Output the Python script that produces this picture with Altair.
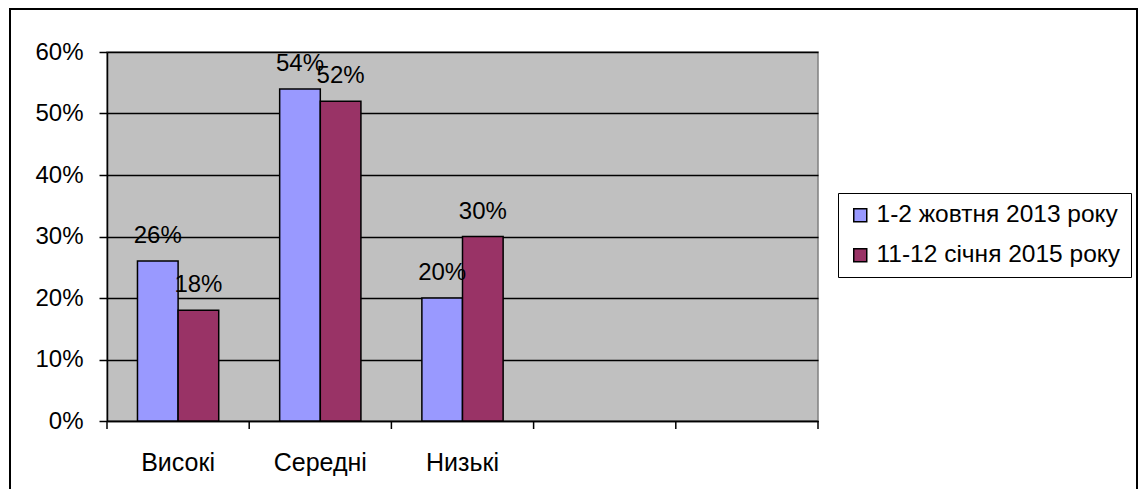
import altair as alt
import pandas as pd

categories = ["Високі", "Середні", "Низькі", " ", "  "]
series = ["1-2 жовтня 2013 року", "11-12 січня 2015 року"]
values_2013 = [0.26, 0.54, 0.20]
values_2015 = [0.18, 0.52, 0.30]
y_ticks = [0, 0.1, 0.2, 0.3, 0.4, 0.5, 0.6]
colors = ["#9999FF", "#993366"]

rows = []
for c, v in zip(categories, values_2013):
    rows.append({"cat": c, "series": series[0], "value": v})
for c, v in zip(categories, values_2015):
    rows.append({"cat": c, "series": series[1], "value": v})
df = pd.DataFrame(rows)
cats_df = pd.DataFrame({"cat": categories})

FONT = "Liberation Sans"
W, H = 711, 369

x_scale = alt.Scale(domain=categories, paddingInner=0, paddingOuter=0)
xo_scale = alt.Scale(domain=series, paddingInner=0, paddingOuter=0.75)
y_scale = alt.Scale(domain=[0, 0.6], nice=False)

x_enc = alt.X("cat:N", scale=x_scale, sort=categories,
              axis=alt.Axis(title=None, ticks=False, labelAngle=0, labelFontSize=25,
                            labelFont=FONT, labelColor="black", labelPadding=29,
                            domainColor="black", domainWidth=1.5))
y_enc = alt.Y("value:Q", scale=y_scale,
              axis=alt.Axis(title=None, values=y_ticks, format=".0%", grid=True,
                            gridColor="black", gridWidth=1.5, tickColor="black",
                            tickSize=8, tickWidth=1.5, domainColor="black", domainWidth=1.5,
                            labelFontSize=24, labelFont=FONT, labelColor="black",
                            labelPadding=16))

border = alt.Chart(cats_df).mark_rect(fill=None, stroke="black", strokeWidth=2).encode(
    x=alt.value(-97), x2=alt.value(1030), y=alt.value(-43), y2=alt.value(520)
)

bars = alt.Chart(df).mark_bar(stroke="black", strokeWidth=1.5).encode(
    x=x_enc,
    xOffset=alt.XOffset("series:N", scale=xo_scale, sort=series),
    y=y_enc,
    color=alt.Color("series:N", scale=alt.Scale(domain=series, range=colors),
                    legend=alt.Legend(title=None, orient="none", legendX=731, legendY=141,
                                      strokeColor="black", fillColor="white", padding=10,
                                      symbolType="square", symbolSize=169,
                                      symbolStrokeColor="black", symbolStrokeWidth=1.5,
                                      labelFontSize=24.5, labelFont=FONT, labelColor="black",
                                      labelLimit=0, rowPadding=15, labelOffset=4)),
)

labels = alt.Chart(df).mark_text(fontSize=24, font=FONT, color="black", baseline="alphabetic",
                                 align="center", dy=-18).encode(
    x=alt.X("cat:N", scale=x_scale, sort=categories),
    xOffset=alt.XOffset("series:N", scale=xo_scale, sort=series),
    y=alt.Y("value:Q", scale=y_scale),
    text=alt.Text("value:Q", format=".0%"),
)

ticks = alt.Chart(cats_df).mark_rule(color="black", strokeWidth=1.5).encode(
    x=alt.X("cat:N", scale=x_scale, sort=categories, bandPosition=0),
    y=alt.value(H), y2=alt.value(H + 8),
)
end_tick = alt.Chart(cats_df.head(1)).mark_rule(color="black", strokeWidth=1.5).encode(
    x=alt.value(W), y=alt.value(H), y2=alt.value(H + 8),
)

chart = alt.layer(border, bars, labels, ticks, end_tick).properties(
    width=W, height=H,
    autosize=alt.AutoSizeParams(type="none"),
    padding={"left": 99, "top": 44, "right": 320, "bottom": 68},
    background="white",
).configure_view(
    fill="#C0C0C0", stroke="#808080", strokeWidth=1.5
)

chart.save("out.html", embed_options={"renderer": "svg", "actions": False})
